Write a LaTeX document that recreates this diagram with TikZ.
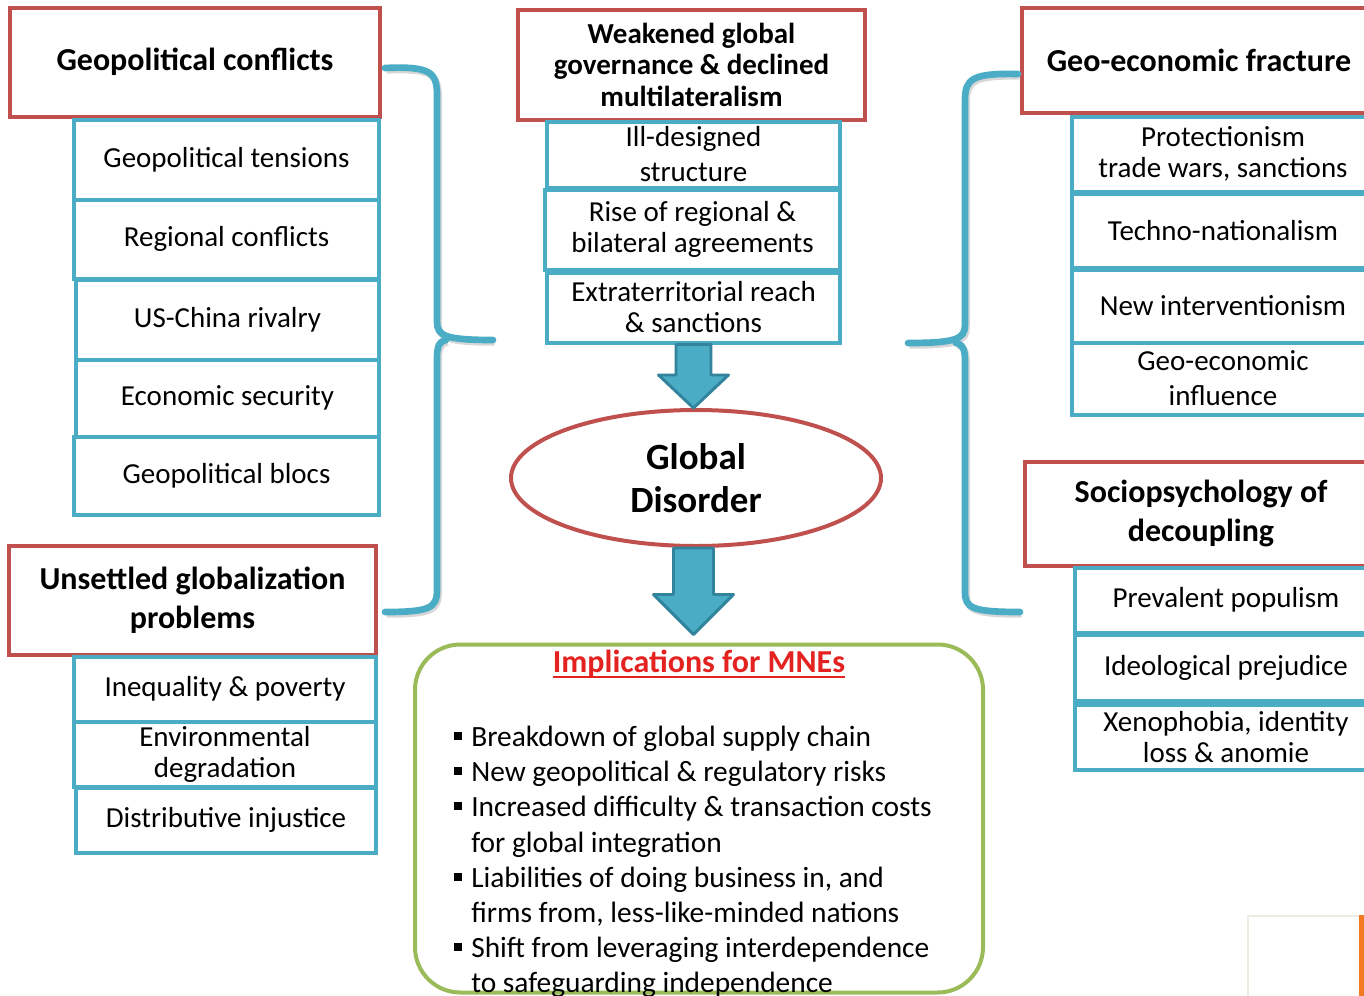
\documentclass[tikz,border=0pt]{standalone}
\usepackage{fontspec}
\setmainfont{Carlito}
\usetikzlibrary{calc,shapes.geometric}

\definecolor{boxred}{HTML}{C0504D}
\definecolor{boxblue}{HTML}{4BACC6}
\definecolor{arrowedge}{HTML}{31849B}
\definecolor{boxgreen}{HTML}{9BBB59}
\definecolor{titlered}{HTML}{E42320}
\definecolor{tabbeige}{HTML}{EEEBE1}
\definecolor{taborange}{HTML}{F47920}

% one unit = one pixel of a 1364 x 996 canvas, y pointing down
\tikzset{
  head/.style={draw=boxred, line width=3pt, fill=white, align=center, inner sep=0pt,
    font=\bfseries\fontsize{24}{29.25}\selectfont},
  item/.style={draw=boxblue, line width=3pt, fill=white, align=center, inner sep=0pt,
    font=\fontsize{21.75}{23.25}\selectfont},
  wideitem/.style={item, font=\fontsize{21.75}{26.25}\selectfont},
  blockarrow/.style={fill=boxblue, draw=arrowedge, line width=2.2pt, line join=round},
  bracket/.style={draw=boxblue, line width=5pt, line cap=round,
    preaction={draw=black!45, opacity=0.35, line width=5pt,
      transform canvas={shift={(1.2pt,-1.8pt)}}}},
  bulletline/.style={anchor=base west, inner sep=0pt, font=\fontsize{22.05}{26.25}\selectfont},
}

% \placebox{name}{style}{x1}{y1}{x2}{y2}{text}
\newcommand\placebox[7]{%
  \pgfmathsetmacro\bxw{(#5-#3)*0.75}%
  \pgfmathsetmacro\bxh{(#6-#4)*0.75}%
  \node[#2, minimum width=\bxw pt, minimum height=\bxh pt] (#1) at ({(#3+#5)/2},{(#4+#6)/2+1.5}) {#7};}

\newcommand\sqbullet{\makebox[12.75pt][l]{\rule[0.2em]{0.26em}{0.26em}}}

\begin{document}
\begin{tikzpicture}[x=0.75pt, y=-0.75pt]
\useasboundingbox (0,0) rectangle (1364,996);
\clip (0,0) rectangle (1364,996);

% ---------- left column ----------
\placebox{gc}{head}{10}{6}{380}{115}{Geopolitical conflicts}
\placebox{gt}{item}{74}{118}{379}{198}{Geopolitical tensions}
\placebox{rc}{item}{74}{198}{379}{277}{Regional conflicts}
\placebox{us}{item}{76}{278}{379}{358}{US-China rivalry}
\placebox{es}{item}{76}{358}{379}{435}{Economic security}
\placebox{gb}{item}{74}{435}{379}{513}{Geopolitical blocs}

\placebox{ugp}{head}{9}{544}{376}{653}{Unsettled globalization\\problems}
\placebox{ip}{item}{74}{655}{376}{720}{Inequality \& poverty}
\placebox{ed}{item}{74}{720}{376}{785}{Environmental\\degradation}
\placebox{di}{item}{76}{786}{376}{851}{Distributive injustice}

% ---------- centre column ----------
\placebox{wg}{head, font=\bfseries\fontsize{21.75}{23.6}\selectfont}{518}{8}{865}{118}{Weakened global\\governance \& declined\\multilateralism}
\placebox{ids}{wideitem}{547}{120}{840}{186}{Ill-designed\\structure}
\placebox{rra}{item}{545}{188}{840}{268}{Rise of regional \&\\bilateral agreements}
\placebox{ext}{item}{547}{271}{840}{341}{Extraterritorial reach\\\& sanctions}

\node[ellipse, draw=boxred, line width=3pt, fill=white, inner sep=0pt,
  minimum width=277.5pt, minimum height=102pt, align=center,
  font=\bfseries\fontsize{27.75}{32.25}\selectfont] (gd) at (696,478) {Global\\Disorder};

\placebox{imp}{draw=boxgreen, line width=3pt, rounded corners=34pt, inner sep=0pt}{415}{643}{983}{991}{}

\node[inner sep=0pt, text=titlered, font=\bfseries\fontsize{24}{28}\selectfont] (ttl) at (699,664) {Implications for MNEs};
\draw[titlered, line width=1.6pt] ($(ttl.base west)+(0,4)$) -- ($(ttl.base east)+(0,4)$);

\node[bulletline] (b1) at (454,746) {\sqbullet Breakdown of global supply chain};
\node[bulletline] (b2) at (454,781) {\sqbullet New geopolitical \& regulatory risks};
\node[bulletline] (b3) at (454,816) {\sqbullet Increased difficulty \& transaction costs};
\node[bulletline] (b3b) at (471,852) {for global integration};
\node[bulletline] (b4) at (454,887) {\sqbullet Liabilities of doing business in, and};
\node[bulletline] (b4b) at (471,922) {firms from, less-like-minded nations};
\node[bulletline] (b5) at (454,957) {\sqbullet Shift from leveraging interdependence};
\node[bulletline] (b5b) at (471,992) {to safeguarding independence};

% ---------- right column ----------
\placebox{gef}{head}{1022}{6}{1376}{111}{Geo-economic fracture}
\placebox{pro}{item}{1072}{115}{1374}{190}{Protectionism\\trade wars, sanctions}
\placebox{tn}{item}{1072}{192}{1374}{266}{Techno-nationalism}
\placebox{ni}{item}{1072}{268}{1374}{341}{New interventionism}
\placebox{gei}{wideitem}{1072}{341}{1374}{413}{Geo-economic\\influence}

\placebox{sod}{head}{1025}{460}{1377}{564}{Sociopsychology of\\decoupling}
\placebox{pp}{item}{1075}{566}{1377}{631}{Prevalent populism}
\placebox{ipj}{item}{1075}{633}{1377}{699}{Ideological prejudice}
\placebox{xen}{item}{1075}{703}{1377}{768}{Xenophobia, identity\\loss \& anomie}

% ---------- block arrows ----------
\coordinate (a1s) at (ext.south);
\coordinate (a1t) at (ext.south |- gd.north);
\draw[blockarrow] ($(a1s)+(-17.5,0)$) -- ($(a1s)+(17.5,0)$) -- ($(a1t)+(17.5,-33)$)
  -- ($(a1t)+(35,-33)$) -- (a1t) -- ($(a1t)+(-35,-33)$) -- ($(a1t)+(-17.5,-33)$) -- cycle;

\coordinate (a2s) at (ext.south |- gd.south);
\coordinate (a2t) at ($(ext.south |- imp.north)+(0,-8)$);
\draw[blockarrow] ($(a2s)+(-20,0)$) -- ($(a2s)+(20,0)$) -- ($(a2t)+(20,-40)$)
  -- ($(a2t)+(40,-40)$) -- (a2t) -- ($(a2t)+(-40,-40)$) -- ($(a2t)+(-20,-40)$) -- cycle;

% ---------- curly brackets ----------
\coordinate (lbt) at ($(gc.east)+(3,6)$);
\coordinate (lbk) at (493,340);
\coordinate (lbb) at ($(ugp.east)+(7,12)$);
\draw[bracket] (lbt) .. controls (430,66) and (437,72) .. (437,95) -- (437,322)
  .. controls (437,336) and (446,340) .. (lbk);
\draw[bracket] (446,340) .. controls (437,342) and (437,350) .. (437,362) -- (437,590)
  .. controls (437,608) and (430,612) .. (lbb);

\coordinate (rbt) at ($(gef.west)+(-2,14)$);
\coordinate (rbk) at (908,343);
\coordinate (rbb) at (1020,612);
\draw[bracket] (rbt) .. controls (972,73) and (965,79) .. (965,100) -- (965,325)
  .. controls (965,339) and (956,343) .. (rbk);
\draw[bracket] (956,343) .. controls (965,345) and (965,353) .. (965,365) -- (965,592)
  .. controls (965,608) and (972,612) .. (rbb);

% ---------- corner of a neighbouring panel ----------
\draw[tabbeige, line width=1.5pt] (1248,1000) -- (1248,916) -- (1362,916);
\fill[taborange] (1359,915) rectangle (1368,1000);
\end{tikzpicture}
\end{document}
